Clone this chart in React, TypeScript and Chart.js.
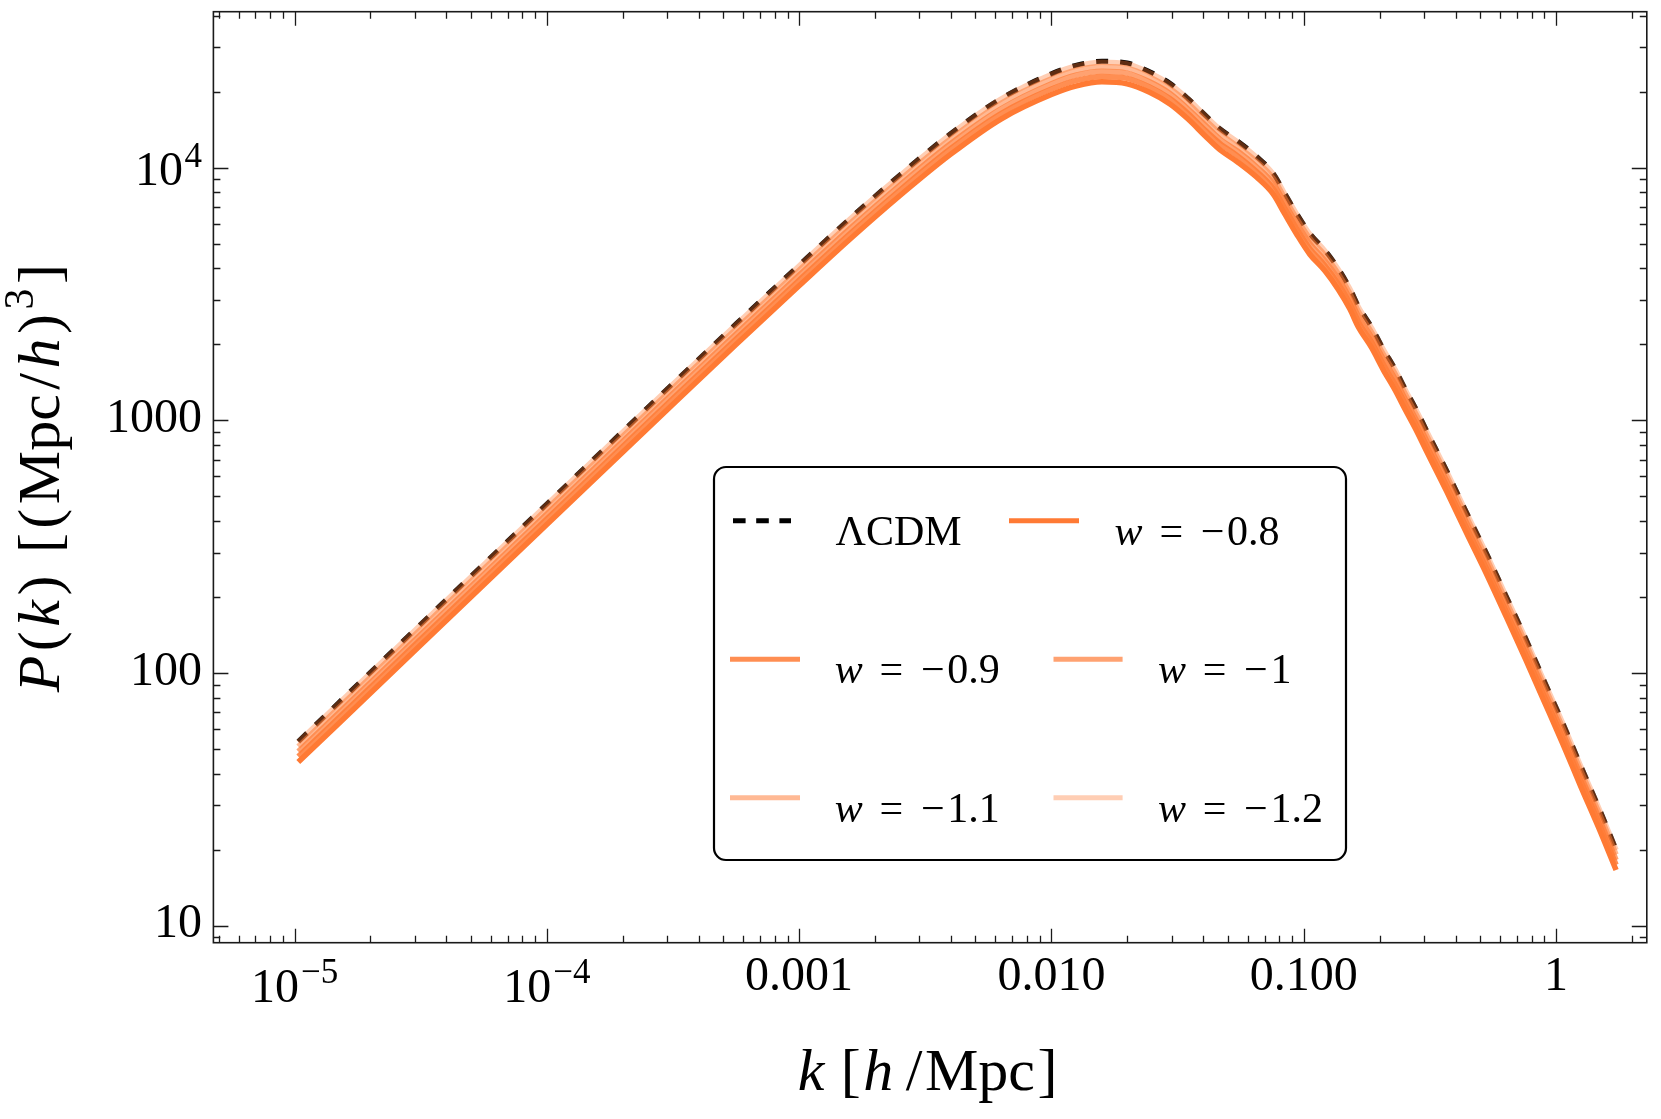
import { useEffect, useRef } from 'react';
import { Chart, registerables } from 'chart.js';

Chart.register(...registerables);

// ---- data ----
const kValues = [1.035e-5, 3.162e-5, 1.0e-4, 3.162e-4, 5.623e-4, 1.0e-3, 1.585e-3, 2.512e-3, 3.981e-3, 6.31e-3, 0.01, 0.01259, 0.01585, 0.01995, 0.0245, 0.0295, 0.0348, 0.0406, 0.0465, 0.055, 0.065, 0.0757, 0.0841, 0.0938, 0.1057, 0.1213, 0.1371, 0.1524, 0.1644, 0.1858, 0.2065, 0.2301, 0.2518, 0.2799, 0.3069, 0.3681, 0.4446, 0.5309, 0.6368, 0.7586, 0.8974, 1.062, 1.253, 1.479, 1.73];

const pLCDM = [53.6, 156, 467, 1400, 2410, 4120, 6280, 9380, 13650, 18800, 23550, 25500, 26400, 26000, 24000, 21600, 18800, 16200, 14300, 12700, 11100, 9510, 7930, 6590, 5500, 4720, 3990, 3330, 2840, 2340, 1920, 1600, 1340, 1100, 912, 634, 427, 297, 200, 137, 93.3, 63.7, 43.0, 29.3, 20.0];
const pW12 = [53.2, 155, 464, 1390, 2390, 4090, 6240, 9310, 13550, 18700, 23400, 25300, 26200, 25800, 23800, 21400, 18700, 16100, 14200, 12600, 11000, 9440, 7870, 6540, 5460, 4690, 3960, 3310, 2820, 2320, 1910, 1590, 1330, 1090, 906, 630, 424, 295, 199, 136, 92.6, 63.3, 42.7, 29.1, 19.9];
const pW11 = [51.2, 149, 446, 1340, 2300, 3930, 6000, 8960, 13000, 18000, 22500, 24400, 25200, 24800, 22900, 20600, 18000, 15500, 13700, 12100, 10600, 9080, 7570, 6290, 5250, 4510, 3810, 3180, 2710, 2230, 1830, 1530, 1280, 1050, 871, 605, 408, 284, 191, 131, 89.1, 60.8, 41.1, 28.0, 19.1];
const pW10 = [48.9, 142, 426, 1280, 2200, 3760, 5730, 8550, 12450, 17100, 21500, 23300, 24100, 23700, 21900, 19700, 17100, 14800, 13000, 11600, 10100, 8670, 7230, 6010, 5020, 4300, 3640, 3040, 2590, 2130, 1750, 1460, 1220, 1000, 832, 578, 389, 271, 182, 125, 85.1, 58.1, 39.2, 26.7, 18.2];
const pW09 = [46.7, 136, 407, 1220, 2100, 3590, 5470, 8170, 11900, 16400, 20500, 22200, 23000, 22600, 20900, 18800, 16400, 14100, 12500, 11100, 9670, 8280, 6910, 5740, 4790, 4110, 3480, 2900, 2470, 2040, 1670, 1390, 1170, 958, 794, 552, 372, 259, 174, 119, 81.3, 55.5, 37.5, 25.5, 17.4];
const pW08 = [44.4, 129, 387, 1160, 2000, 3410, 5200, 7770, 11300, 15600, 19500, 21100, 21900, 21500, 19900, 17900, 15600, 13400, 11800, 10500, 9190, 7870, 6570, 5460, 4550, 3910, 3300, 2760, 2350, 1940, 1590, 1320, 1110, 911, 755, 525, 354, 246, 166, 113, 77.3, 52.7, 35.6, 24.3, 16.6];

const seriesNames = ['ΛCDM', 'w = −0.8', 'w = −0.9', 'w = −1', 'w = −1.1', 'w = −1.2'];
const wNumberTexts = ['', '0.8', '0.9', '1', '1.1', '1.2'];
const seriesColors = [
  'rgba(0,0,0,1)',
  'rgba(255,122,52,1)',
  'rgba(255,122,52,0.85)',
  'rgba(255,122,52,0.7)',
  'rgba(255,122,52,0.53)',
  'rgba(255,122,52,0.37)',
];

const xTickValues = [1e-5, 1e-4, 1e-3, 1e-2, 1e-1, 1];
const xTickBase = ['10', '10', '0.001', '0.010', '0.100', '1'];
const xTickExp = ['−5', '−4', '', '', '', ''];
const yTickValues = [10, 100, 1000, 10000];
const yTickBase = ['10', '100', '1000', '10'];
const yTickExp = ['', '', '', '4'];

const X_MIN = 4.77e-6;
const X_MAX = 2.29;
const Y_MIN = 8.56;
const Y_MAX = 41500;

const SERIF = '"Liberation Serif", "DejaVu Serif", serif';

function font(size: number, italic = false) {
  return `${italic ? 'italic ' : ''}${size}px ${SERIF}`;
}

type Piece = { t: string; it?: boolean; sup?: boolean; gapBefore?: number };

function drawPieces(ctx: CanvasRenderingContext2D, pieces: Piece[], startX: number, baseY: number, size: number, supSize: number, supRaise: number, tracking: number) {
  let x = startX;
  pieces.forEach((p, i) => {
    if (i > 0) x += tracking;
    x += p.gapBefore || 0;
    const s = p.sup ? supSize : size;
    ctx.font = font(s, !!p.it);
    ctx.fillText(p.t, x, p.sup ? baseY - supRaise : baseY);
    x += ctx.measureText(p.t).width;
  });
  return x;
}

function piecesWidth(ctx: CanvasRenderingContext2D, pieces: Piece[], size: number, supSize: number, tracking: number) {
  let w = 0;
  pieces.forEach((p, i) => {
    if (i > 0) w += tracking;
    w += p.gapBefore || 0;
    ctx.font = font(p.sup ? supSize : size, !!p.it);
    w += ctx.measureText(p.t).width;
  });
  return w;
}

const decorPlugin = {
  id: 'decor',
  afterDraw(chart: any) {
    const ctx: CanvasRenderingContext2D = chart.ctx;
    const a = chart.chartArea;
    const xs = chart.scales.x;
    const ys = chart.scales.y;
    ctx.save();
    ctx.fillStyle = '#000';
    ctx.strokeStyle = '#1a1a1a';

    // frame
    ctx.lineWidth = 1.6;
    ctx.strokeRect(a.left, a.top, a.right - a.left, a.bottom - a.top);

    // ticks (inside, all four sides)
    ctx.lineWidth = 1.3;
    ctx.beginPath();
    for (let d = -6; d <= 0; d++) {
      for (let m = 1; m <= 9; m++) {
        const v = m * Math.pow(10, d);
        if (v < X_MIN || v > X_MAX) continue;
        const px = Math.round(xs.getPixelForValue(v)) + 0.5;
        const len = m === 1 ? 14 : 7;
        ctx.moveTo(px, a.bottom);
        ctx.lineTo(px, a.bottom - len);
        ctx.moveTo(px, a.top);
        ctx.lineTo(px, a.top + len);
      }
    }
    for (let d = 0; d <= 4; d++) {
      for (let m = 1; m <= 9; m++) {
        const v = m * Math.pow(10, d);
        if (v < Y_MIN || v > Y_MAX) continue;
        const py = Math.round(ys.getPixelForValue(v)) + 0.5;
        const len = m === 1 ? 15 : 7;
        ctx.moveTo(a.left, py);
        ctx.lineTo(a.left + len, py);
        ctx.moveTo(a.right, py);
        ctx.lineTo(a.right - len, py);
      }
    }
    ctx.stroke();

    // x tick labels
    ctx.textBaseline = 'alphabetic';
    ctx.textAlign = 'left';
    xTickValues.forEach((v, i) => {
      const px = xs.getPixelForValue(v);
      const base = xTickBase[i];
      const exp = xTickExp[i];
      ctx.font = font(48);
      const wb = ctx.measureText(base).width;
      if (!exp) {
        ctx.fillText(base, px - wb / 2, a.bottom + 47);
      } else {
        ctx.font = font(35);
        const we = ctx.measureText(exp).width;
        const total = wb + 2 + we;
        const sx = px - total / 2;
        ctx.font = font(48);
        ctx.fillText(base, sx, a.bottom + 59);
        ctx.font = font(35);
        ctx.fillText(exp, sx + wb + 2, a.bottom + 40.5);
      }
    });

    // y tick labels
    yTickValues.forEach((v, i) => {
      const py = ys.getPixelForValue(v);
      const base = yTickBase[i];
      const exp = yTickExp[i];
      const right = a.left - 11.5;
      if (!exp) {
        ctx.font = font(48);
        const wb = ctx.measureText(base).width;
        ctx.fillText(base, right - wb, py + 11.5);
      } else {
        ctx.font = font(35);
        const we = ctx.measureText(exp).width;
        ctx.fillText(exp, right - we, py - 1);
        ctx.font = font(48);
        const wb = ctx.measureText(base).width;
        ctx.fillText(base, right - we - 1.5 - wb, py + 17.3);
      }
    });

    // x axis title: k [h /Mpc]
    const xt: Piece[] = [
      { t: 'k', it: true },
      { t: '[', gapBefore: 14 },
      { t: 'h', it: true },
      { t: '/', gapBefore: 10 },
      { t: 'Mpc' },
      { t: ']' },
    ];
    const xtw = piecesWidth(ctx, xt, 60, 42, 2.5);
    const cx = 927.5;
    drawPieces(ctx, xt, cx - xtw / 2, a.bottom + 147.3, 60, 42, 26, 2.5);

    // y axis title: P(k) [(Mpc/h)^3]
    const yt: Piece[] = [
      { t: 'P', it: true },
      { t: '(' },
      { t: 'k', it: true },
      { t: ')' },
      { t: '[', gapBefore: 18 },
      { t: '(' },
      { t: 'Mpc' },
      { t: '/' },
      { t: 'h', it: true },
      { t: ')' },
      { t: '3', sup: true },
      { t: ']' },
    ];
    const ytw = piecesWidth(ctx, yt, 60, 42, 4.5);
    const cy = (a.top + a.bottom) / 2 + 1;
    ctx.save();
    ctx.translate(59, cy);
    ctx.rotate(-Math.PI / 2);
    drawPieces(ctx, yt, -ytw / 2, 0, 60, 42, 26, 4.5);
    ctx.restore();

    // legend box
    const L = 714, T = 467, R = 1346, B = 860, rad = 12;
    ctx.beginPath();
    ctx.moveTo(L + rad, T);
    ctx.lineTo(R - rad, T);
    ctx.arcTo(R, T, R, T + rad, rad);
    ctx.lineTo(R, B - rad);
    ctx.arcTo(R, B, R - rad, B, rad);
    ctx.lineTo(L + rad, B);
    ctx.arcTo(L, B, L, B - rad, rad);
    ctx.lineTo(L, T + rad);
    ctx.arcTo(L, T, L + rad, T, rad);
    ctx.closePath();
    ctx.fillStyle = '#ffffff';
    ctx.fill();
    ctx.lineWidth = 2.2;
    ctx.strokeStyle = '#000';
    ctx.stroke();

    // legend entries: [lineX0, lineX1, lineY, textX, textBaseline]
    const entries = [
      [733, 791, 520.7, 835.5, 545],
      [1009, 1079, 520.7, 1114.6, 545],
      [730, 800, 659.3, 834.7, 683.3],
      [1053.5, 1122.6, 659.3, 1157.9, 683.3],
      [730, 800, 797.7, 834.7, 821.7],
      [1053.5, 1122.6, 797.7, 1157.9, 821.7],
    ];
    entries.forEach((e, i) => {
      const [x0, x1, ly, tx, tb] = e;
      ctx.strokeStyle = seriesColors[i];
      ctx.lineWidth = 5;
      ctx.lineCap = 'butt';
      ctx.setLineDash(i === 0 ? [12.6, 10.6] : []);
      ctx.beginPath();
      ctx.moveTo(x0, ly);
      ctx.lineTo(x1, ly);
      ctx.stroke();
      ctx.setLineDash([]);
      ctx.fillStyle = '#000';
      if (i === 0) {
        ctx.font = font(42);
        ctx.fillText(seriesNames[0], tx, tb);
      } else {
        ctx.font = font(42, true);
        ctx.fillText('w', tx, tb);
        ctx.font = font(42);
        const we = ctx.measureText('=').width;
        ctx.fillText('=', tx + 56.7 - we / 2, tb);
        ctx.fillText('−', tx + 86.2, tb);
        ctx.fillText(wNumberTexts[i], tx + 112.5, tb);
      }
    });

    ctx.restore();
  },
};

export default function App() {
  const ref = useRef<HTMLCanvasElement | null>(null);

  useEffect(() => {
    if (!ref.current) return;
    const allSeries = [pLCDM, pW08, pW09, pW10, pW11, pW12];
    const orders = [10, 5, 4, 3, 2, 1];
    const datasets = allSeries.map((vals, i) => ({
      label: seriesNames[i],
      data: kValues.map((k, j) => ({ x: k, y: vals[j] })),
      borderColor: seriesColors[i],
      backgroundColor: seriesColors[i],
      borderWidth: i === 0 ? 5 : 5.5,
      borderDash: i === 0 ? [12, 12] : [],
      borderCapStyle: 'butt' as const,
      borderJoinStyle: 'round' as const,
      pointRadius: 0,
      fill: false,
      cubicInterpolationMode: 'monotone' as const,
      order: orders[i],
    }));

    const chart = new Chart(ref.current, {
      type: 'line',
      data: { datasets },
      options: {
        animation: false,
        responsive: false,
        devicePixelRatio: 1,
        events: [],
        layout: { padding: { left: 213.4, right: 14.2, top: 11.7, bottom: 176.3 } },
        scales: {
          x: { type: 'logarithmic', min: X_MIN, max: X_MAX, display: false },
          y: { type: 'logarithmic', min: Y_MIN, max: Y_MAX, display: false },
        },
        plugins: {
          legend: { display: false },
          tooltip: { enabled: false },
        },
      },
      plugins: [decorPlugin],
    });
    return () => chart.destroy();
  }, []);

  return (
    <div style={{ position: 'fixed', left: 0, top: 0, width: 1661, height: 1119, background: '#fff' }}>
      <canvas ref={ref} width={1661} height={1119} style={{ display: 'block' }} />
    </div>
  );
}
